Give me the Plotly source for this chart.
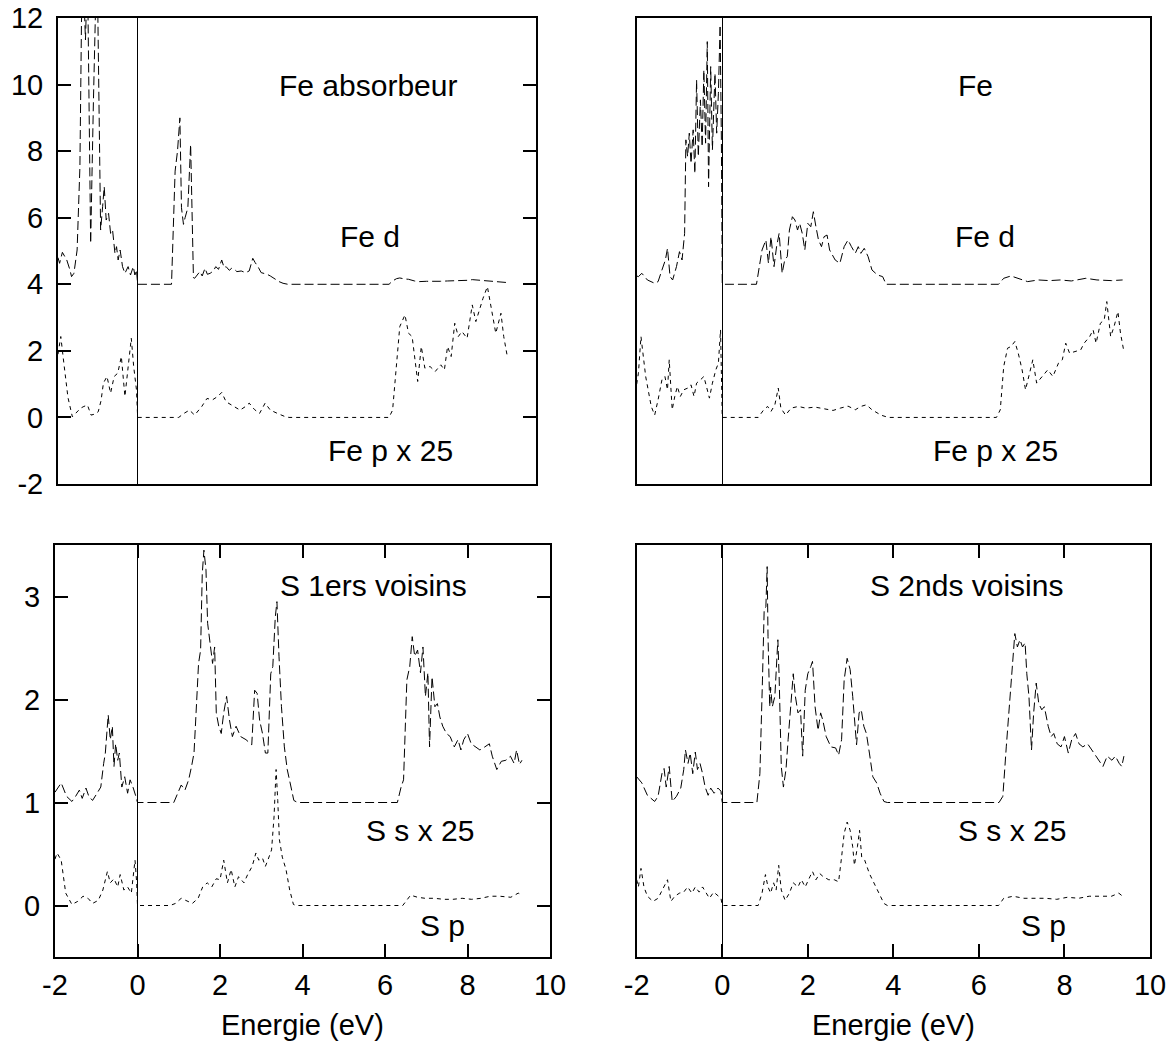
import plotly.graph_objects as go

# ---------------- Fe absorbeur (top left) ----------------
fe_abs_d_E = [-2.0, -1.96, -1.89, -1.78, -1.70, -1.66, -1.60, -1.52, -1.45, -1.41, -1.36, -1.31, -1.26,
              -1.21, -1.18, -1.11, -1.04, -1.00, -0.96, -0.93, -0.88, -0.84, -0.79, -0.73, -0.68, -0.63,
              -0.57, -0.53, -0.49, -0.44, -0.38, -0.32, -0.24, -0.18, -0.11, -0.07, -0.03, 0.0,
              0.0, 0.85, 0.94, 1.00, 1.06, 1.10, 1.15, 1.19, 1.26, 1.33, 1.40, 1.43, 1.50, 1.56, 1.62,
              1.69, 1.75, 1.82, 1.90, 1.96, 2.03, 2.11, 2.17, 2.22, 2.30, 2.36, 2.43, 2.49, 2.60, 2.71,
              2.80, 2.89, 2.95, 3.02, 3.10, 3.16, 3.25, 3.33, 3.45, 3.55, 3.65, 3.77, 6.31, 6.40, 6.50,
              6.58, 6.70, 6.80, 6.95, 7.07, 7.25, 7.42, 7.60, 7.78, 7.95, 8.14, 8.30, 8.40, 8.58, 8.76,
              8.90, 9.03, 9.15, 9.30]
fe_abs_d = [4.8, 4.63, 4.96, 4.73, 4.43, 4.23, 4.33, 5.03, 7.53, 11.94, 13.0, 11.34, 13.5,
            7.53, 5.23, 9.54, 13.2, 12.14, 8.54, 5.63, 6.33, 6.93, 5.93, 6.13, 5.53, 5.63,
            4.93, 5.13, 4.73, 5.03, 4.53, 4.33, 4.53, 4.28, 4.53, 4.28, 4.43, 4.0,
            4.0, 4.0, 7.4, 8.0, 9.0, 6.3, 5.8, 6.0, 6.3, 8.2, 4.2, 4.18, 4.3, 4.38, 4.25,
            4.48, 4.3, 4.33, 4.4, 4.53, 4.45, 4.73, 4.5, 4.53, 4.42, 4.48, 4.45, 4.38, 4.4, 4.35,
            4.4, 4.78, 4.65, 4.53, 4.35, 4.33, 4.3, 4.25, 4.15, 4.08, 4.03, 4.0, 4.0, 4.1, 4.17,
            4.19, 4.16, 4.15, 4.1, 4.08, 4.09, 4.08, 4.09, 4.1, 4.1, 4.11, 4.12, 4.14, 4.12, 4.11,
            4.09, 4.07, 4.06, 4.05]

fe_abs_p_E = [-2.0, -1.93, -1.85, -1.75, -1.64, -1.52, -1.43, -1.35, -1.26, -1.17, -1.08, -0.99, -0.92,
              -0.86, -0.77, -0.68, -0.59, -0.50, -0.41, -0.32, -0.23, -0.16, -0.10, -0.03, 0.0,
              0.0, 1.03, 1.16, 1.30, 1.43, 1.61, 1.74, 1.88, 2.01, 2.11, 2.22, 2.40, 2.57, 2.71, 2.80,
              2.93, 3.06, 3.20, 3.33, 3.51, 3.69, 3.80, 6.31, 6.40, 6.49, 6.58, 6.71, 6.80, 6.89, 6.98,
              7.03, 7.12, 7.21, 7.34, 7.47, 7.61, 7.70, 7.78, 7.87, 7.96, 8.05, 8.14, 8.27, 8.40, 8.49,
              8.58, 8.67, 8.78, 8.87, 8.99, 9.12, 9.19, 9.28]
fe_abs_p = [1.9, 2.43, 1.6, 0.6, 0.02, 0.17, 0.28, 0.33, 0.37, 0.07, 0.1, 0.17, 0.5,
            1.03, 1.23, 0.73, 1.23, 1.33, 1.83, 0.63, 1.73, 2.38, 1.53, 0.83, 0.0,
            0.0, 0.0, 0.12, 0.22, 0.07, 0.33, 0.57, 0.53, 0.63, 0.75, 0.47, 0.33, 0.22, 0.33, 0.43,
            0.24, 0.12, 0.43, 0.22, 0.12, 0.03, 0.0, 0.0, 0.22, 1.53, 2.73, 3.08, 2.53, 2.43, 1.63,
            1.08, 2.13, 1.48, 1.53, 1.38, 1.58, 1.43, 2.13, 1.83, 2.83, 2.43, 2.58, 2.38, 3.38, 2.88,
            3.23, 3.58, 3.93, 3.28, 2.53, 3.13, 2.43, 1.83]

# ---------------- Fe (top right) ----------------
fe_d_E = [-2.0, -1.96, -1.88, -1.75, -1.58, -1.50, -1.41, -1.33, -1.28, -1.22, -1.16, -1.07, -1.00,
          -0.94, -0.88, -0.85, -0.81, -0.77, -0.73, -0.68, -0.64, -0.60, -0.56, -0.51, -0.47, -0.43,
          -0.39, -0.35, -0.32, -0.27, -0.23, -0.17, -0.13, -0.09, -0.05, -0.02, 0.0,
          0.0, 0.80, 0.93, 1.02, 1.08, 1.14, 1.21, 1.27, 1.33, 1.40, 1.46, 1.52, 1.57, 1.64, 1.70,
          1.76, 1.81, 1.87, 1.93, 2.00, 2.07, 2.13, 2.19, 2.25, 2.32, 2.38, 2.45, 2.51, 2.64, 2.75,
          2.85, 2.94, 3.02, 3.11, 3.18, 3.24, 3.32, 3.41, 3.50, 3.63, 3.75, 3.83, 6.46, 6.58, 6.75,
          6.96, 7.14, 7.39, 7.65, 7.90, 8.16, 8.50, 8.76, 9.10, 9.36]
fe_d = [4.25, 4.23, 4.33, 4.13, 4.03, 4.08, 4.43, 4.73, 5.08, 4.23, 4.13, 4.53, 4.98,
        4.73, 5.53, 8.34, 7.84, 8.54, 7.63, 8.64, 7.33, 10.14, 7.84, 9.54, 8.13, 10.44,
        8.24, 11.29, 6.93, 10.54, 8.04, 10.34, 8.54, 9.74, 11.79, 8.34, 4.0,
        4.0, 4.0, 5.03, 5.33, 4.63, 5.43, 4.53, 5.13, 5.53, 4.33, 4.73, 4.83, 5.63, 6.03, 5.93,
        5.63, 5.83, 5.53, 5.03, 5.83, 5.73, 6.18, 5.73, 5.33, 5.13, 5.43, 5.48, 5.03, 4.73, 4.63,
        5.13, 5.33, 5.13, 4.93, 5.13, 4.93, 5.08, 4.83, 4.43, 4.28, 4.23, 4.0, 4.0, 4.18, 4.25,
        4.15, 4.08, 4.13, 4.11, 4.13, 4.1, 4.18, 4.13, 4.11, 4.13]

fe_p_E = [-2.0, -1.96, -1.90, -1.79, -1.66, -1.58, -1.50, -1.41, -1.34, -1.28, -1.24, -1.17, -1.11,
          -1.05, -0.98, -0.90, -0.81, -0.73, -0.66, -0.60, -0.51, -0.43, -0.37, -0.30, -0.23, -0.15,
          -0.09, -0.04, 0.0,
          0.0, 0.84, 0.97, 1.06, 1.14, 1.23, 1.31, 1.37, 1.48, 1.61, 1.78, 1.95, 2.17, 2.38, 2.59,
          2.76, 2.94, 3.11, 3.24, 3.37, 3.50, 3.71, 3.88, 6.41, 6.50, 6.58, 6.67, 6.75, 6.84, 6.92,
          7.01, 7.09, 7.18, 7.26, 7.35, 7.48, 7.61, 7.73, 7.86, 7.95, 8.03, 8.12, 8.25, 8.38, 8.46,
          8.59, 8.67, 8.74, 8.84, 8.93, 8.99, 9.08, 9.16, 9.25, 9.31, 9.39]
fe_p = [1.0, 1.33, 2.43, 1.23, 0.33, 0.07, 0.53, 1.13, 1.23, 0.83, 1.73, 0.23, 0.63,
        0.93, 0.63, 0.83, 0.88, 0.98, 0.63, 1.03, 1.13, 1.23, 0.93, 0.58, 1.03, 1.43,
        1.63, 2.63, 0.0,
        0.0, 0.0, 0.23, 0.33, 0.18, 0.38, 0.88, 0.28, 0.07, 0.28, 0.33, 0.28, 0.31, 0.25, 0.21,
        0.28, 0.34, 0.23, 0.33, 0.38, 0.23, 0.07, 0.0, 0.0, 0.23, 1.53, 2.08, 2.13, 2.28, 1.93,
        1.43, 0.83, 1.33, 1.73, 1.03, 1.23, 1.43, 1.23, 1.63, 1.73, 2.23, 1.93, 1.98, 2.03, 2.23,
        2.43, 2.63, 2.23, 2.83, 2.93, 3.48, 2.43, 2.73, 3.18, 2.53, 1.98]

# ---------------- S 1ers voisins (bottom left) ----------------
s1_s_E = [-2.0, -1.97, -1.85, -1.72, -1.59, -1.50, -1.41, -1.34, -1.25, -1.18, -1.09, -0.98, -0.89,
          -0.82, -0.78, -0.71, -0.66, -0.61, -0.57, -0.53, -0.48, -0.44, -0.38, -0.31, -0.24, -0.18,
          -0.11, -0.04, 0.0,
          0.0, 0.88, 0.97, 1.06, 1.15, 1.24, 1.31, 1.37, 1.42, 1.48, 1.53, 1.57, 1.61, 1.66, 1.70,
          1.76, 1.82, 1.87, 1.91, 1.97, 2.03, 2.09, 2.16, 2.23, 2.30, 2.39, 2.50, 2.63, 2.77, 2.84,
          2.90, 2.96, 3.03, 3.10, 3.16, 3.23, 3.28, 3.34, 3.38, 3.43, 3.49, 3.56, 3.63, 3.70, 3.79,
          3.88, 6.30, 6.39, 6.45, 6.53, 6.60, 6.66, 6.72, 6.79, 6.86, 6.92, 6.98, 7.04, 7.08, 7.14,
          7.21, 7.27, 7.33, 7.40, 7.49, 7.58, 7.68, 7.77, 7.84, 7.91, 8.00, 8.09, 8.20, 8.30, 8.42,
          8.53, 8.60, 8.71, 8.82, 8.93, 9.04, 9.13, 9.19, 9.26, 9.32]
s1_s = [1.1, 1.12, 1.19, 1.06, 1.01, 1.06, 1.12, 1.04, 1.14, 1.06, 1.02, 1.09, 1.15,
        1.38, 1.48, 1.85, 1.61, 1.74, 1.35, 1.57, 1.41, 1.48, 1.15, 1.25, 1.09, 1.22,
        1.15, 1.06, 1.0,
        1.0, 1.0, 1.09, 1.17, 1.12, 1.22, 1.35, 1.48, 1.87, 2.35, 2.48, 3.22, 3.45, 3.26, 2.74,
        2.51, 2.35, 2.51, 1.87, 1.74, 1.67, 1.87, 2.03, 1.8, 1.64, 1.74, 1.64, 1.61, 1.56, 2.09,
        2.06, 1.8, 1.67, 1.48, 1.48, 2.25, 2.32, 2.8, 2.95, 2.42, 1.93, 1.54, 1.32, 1.19, 1.02,
        1.0, 1.0, 1.15, 1.22, 2.19, 2.32, 2.61, 2.42, 2.48, 2.26, 2.51, 2.03, 2.26, 1.54, 2.22,
        1.93, 1.96, 1.83, 1.74, 1.67, 1.64, 1.54, 1.61, 1.51, 1.61, 1.67, 1.57, 1.54, 1.51, 1.54,
        1.57, 1.45, 1.32, 1.4, 1.41, 1.45, 1.38, 1.51, 1.37, 1.41]

s1_p_E = [-2.0, -1.95, -1.85, -1.74, -1.59, -1.45, -1.32, -1.20, -1.09, -0.95, -0.84, -0.73, -0.66,
          -0.57, -0.48, -0.42, -0.33, -0.24, -0.15, -0.06, -0.02, 0.0,
          0.0, 0.79, 0.92, 1.06, 1.20, 1.33, 1.47, 1.58, 1.69, 1.80, 1.91, 2.00, 2.09, 2.18, 2.27,
          2.36, 2.45, 2.58, 2.67, 2.78, 2.87, 2.94, 3.03, 3.10, 3.16, 3.25, 3.31, 3.36, 3.40, 3.44,
          3.51, 3.60, 3.69, 3.78, 3.85, 6.43, 6.62, 6.79, 6.97, 7.20, 7.42, 7.65, 7.87, 8.10, 8.33,
          8.55, 8.78, 9.05, 9.23, 9.33]
s1_p = [0.45, 0.51, 0.44, 0.12, 0.01, 0.04, 0.09, 0.07, 0.02, 0.05, 0.15, 0.33, 0.22,
        0.26, 0.18, 0.3, 0.15, 0.18, 0.12, 0.44, 0.22, 0.0,
        0.0, 0.0, 0.02, 0.07, 0.04, 0.02, 0.07, 0.18, 0.22, 0.18, 0.26, 0.25, 0.44, 0.22, 0.35,
        0.18, 0.28, 0.22, 0.3, 0.38, 0.51, 0.44, 0.46, 0.38, 0.44, 0.54, 0.86, 1.32, 1.02, 0.64,
        0.47, 0.35, 0.15, 0.01, 0.0, 0.0, 0.1, 0.08, 0.07, 0.07, 0.06, 0.06, 0.07, 0.06, 0.07,
        0.09, 0.09, 0.08, 0.12, 0.1]

# ---------------- S 2nds voisins (bottom right) ----------------
s2_s_E = [-2.0, -1.96, -1.88, -1.75, -1.58, -1.50, -1.41, -1.36, -1.31, -1.24, -1.17, -1.07, -0.97,
          -0.90, -0.86, -0.80, -0.75, -0.69, -0.63, -0.58, -0.52, -0.46, -0.40, -0.33, -0.27, -0.19,
          -0.10, -0.03, 0.0,
          0.0, 0.81, 0.88, 0.94, 0.98, 1.02, 1.05, 1.07, 1.11, 1.13, 1.17, 1.23, 1.30, 1.33, 1.38,
          1.43, 1.49, 1.54, 1.60, 1.66, 1.71, 1.77, 1.83, 1.88, 1.94, 2.00, 2.07, 2.11, 2.17, 2.24,
          2.30, 2.35, 2.43, 2.54, 2.65, 2.72, 2.79, 2.85, 2.92, 2.99, 3.05, 3.09, 3.14, 3.20, 3.25,
          3.31, 3.37, 3.44, 3.52, 3.61, 3.69, 3.78, 3.86, 6.47, 6.56, 6.64, 6.73, 6.79, 6.84, 6.90,
          6.96, 7.02, 7.08, 7.12, 7.17, 7.23, 7.28, 7.34, 7.40, 7.47, 7.53, 7.62, 7.69, 7.75, 7.83,
          7.92, 8.00, 8.09, 8.17, 8.26, 8.34, 8.43, 8.54, 8.64, 8.73, 8.81, 8.90, 9.00, 9.11, 9.19,
          9.28, 9.34, 9.39]
s2_s = [1.25, 1.23, 1.19, 1.07, 1.01, 1.06, 1.28, 1.33, 1.15, 1.35, 1.01, 1.06, 1.14,
        1.32, 1.51, 1.38, 1.48, 1.28, 1.49, 1.32, 1.38, 1.28, 1.15, 1.07, 1.14, 1.09,
        1.14, 1.11, 1.0,
        1.0, 1.0, 1.28, 2.19, 2.87, 2.9, 3.29, 2.61, 1.93, 2.12, 1.93, 2.03, 2.58, 2.22, 1.35,
        1.15, 1.32, 1.61, 1.93, 2.25, 2.03, 1.87, 1.9, 1.45, 2.09, 2.25, 2.32, 2.37, 1.93, 1.7,
        1.87, 1.8, 1.64, 1.54, 1.53, 1.46, 1.61, 2.19, 2.4, 2.29, 2.03, 1.8, 1.56, 1.87, 1.9,
        1.74, 1.67, 1.48, 1.25, 1.19, 1.09, 1.01, 1.0, 1.0, 1.06, 1.54, 2.06, 2.42, 2.64, 2.51,
        2.58, 2.51, 2.55, 2.25, 2.03, 1.51, 1.87, 2.16, 1.96, 1.9, 1.93, 1.74, 1.64, 1.67, 1.57,
        1.54, 1.64, 1.48, 1.61, 1.67, 1.57, 1.54, 1.57, 1.51, 1.45, 1.41, 1.35, 1.45, 1.41, 1.45,
        1.38, 1.35, 1.45]

s2_p_E = [-2.0, -1.96, -1.90, -1.83, -1.75, -1.62, -1.50, -1.37, -1.28, -1.20, -1.11, -1.00, -0.90,
          -0.81, -0.71, -0.63, -0.54, -0.46, -0.37, -0.30, -0.20, -0.10, -0.03, 0.0,
          0.0, 0.84, 0.93, 1.01, 1.07, 1.13, 1.20, 1.26, 1.32, 1.38, 1.47, 1.57, 1.66, 1.77, 1.85,
          1.94, 2.05, 2.11, 2.19, 2.28, 2.36, 2.49, 2.62, 2.72, 2.79, 2.85, 2.92, 2.99, 3.05, 3.09,
          3.16, 3.21, 3.26, 3.33, 3.44, 3.54, 3.65, 3.78, 3.86, 6.46, 6.58, 6.80, 7.05, 7.31, 7.56,
          7.82, 8.07, 8.33, 8.58, 8.84, 9.10, 9.27, 9.36]
s2_p = [0.25, 0.18, 0.36, 0.18, 0.09, 0.04, 0.07, 0.18, 0.25, 0.04, 0.09, 0.12, 0.13,
        0.18, 0.12, 0.18, 0.13, 0.18, 0.12, 0.07, 0.13, 0.09, 0.07, 0.0,
        0.0, 0.0, 0.12, 0.3, 0.18, 0.12, 0.22, 0.15, 0.39, 0.15, 0.05, 0.12, 0.22, 0.18, 0.25,
        0.18, 0.28, 0.33, 0.25, 0.31, 0.28, 0.25, 0.25, 0.23, 0.47, 0.7, 0.81, 0.73, 0.57, 0.39,
        0.57, 0.73, 0.47, 0.44, 0.31, 0.22, 0.12, 0.02, 0.0, 0.0, 0.07, 0.09, 0.07, 0.07, 0.07,
        0.06, 0.08, 0.07, 0.09, 0.09, 0.09, 0.12, 0.09]

# tick values and their printed labels (plain hyphen for negatives)
energy_ticks = [-2, 0, 2, 4, 6, 8, 10]
energy_labels = ["-2", "0", "2", "4", "6", "8", "10"]
fe_ticks = [-2, 0, 2, 4, 6, 8, 10, 12]
fe_labels = ["-2", "0", "2", "4", "6", "8", "10", "12"]
s_ticks = [0, 1, 2, 3]
s_labels = ["0", "1", "2", "3"]

FONT = "Liberation Sans, Arial, Helvetica, sans-serif"
LONG_DASH = "9px,4px"
SHORT_DASH = "4px,4px"

fig = go.Figure()

panels = [
    ("x", "y", fe_abs_d_E, fe_abs_d, fe_abs_p_E, fe_abs_p),
    ("x2", "y2", fe_d_E, fe_d, fe_p_E, fe_p),
    ("x3", "y3", s1_s_E, s1_s, s1_p_E, s1_p),
    ("x4", "y4", s2_s_E, s2_s, s2_p_E, s2_p),
]
for xa, ya, e1, v1, e2, v2 in panels:
    fig.add_trace(go.Scatter(x=e1, y=v1, xaxis=xa, yaxis=ya, mode="lines",
                             line=dict(color="black", width=1, dash=LONG_DASH),
                             showlegend=False, hoverinfo="skip"))
    fig.add_trace(go.Scatter(x=e2, y=v2, xaxis=xa, yaxis=ya, mode="lines",
                             line=dict(color="black", width=1, dash=SHORT_DASH),
                             showlegend=False, hoverinfo="skip"))

W, H = 1171, 1050
left_top = [58 / W, 536 / W]
left_bot = [55 / W, 550 / W]
right_col = [636.7 / W, 1150 / W]
top_row = [1 - 484 / H, 1 - 18 / H]
bot_row = [1 - 957 / H, 1 - 545 / H]

tick_font = dict(family=FONT, size=29, color="black")


def xaxis(domain, anchor, labels):
    d = dict(domain=domain, anchor=anchor, range=[-2, 10], showline=True, linecolor="black",
             linewidth=2, mirror=True, showgrid=False, zeroline=True, zerolinecolor="black",
             zerolinewidth=1, tickfont=tick_font, fixedrange=True, automargin=False)
    if labels:
        d.update(tickmode="array", tickvals=energy_ticks, ticktext=energy_labels,
                 ticks="inside", ticklen=13, tickwidth=1.5, tickcolor="black", mirror="ticks",
                 showticklabels=True, ticklabelstandoff=1)
    else:
        d.update(ticks="", showticklabels=False)
    return d


def yaxis(domain, anchor, rng, vals, text, labels):
    d = dict(domain=domain, anchor=anchor, range=rng, showline=True, linecolor="black",
             linewidth=2, mirror=True, showgrid=False, zeroline=False, tickfont=tick_font,
             fixedrange=True, automargin=False)
    if labels:
        d.update(tickmode="array", tickvals=vals, ticktext=text, ticks="inside", ticklen=13,
                 tickwidth=1.5, tickcolor="black", mirror="ticks", showticklabels=True,
                 ticklabelstandoff=7)
    else:
        d.update(ticks="", showticklabels=False)
    return d


fig.update_layout(
    template="none",
    width=W, height=H,
    margin=dict(l=0, r=0, t=0, b=0, pad=0),
    paper_bgcolor="white", plot_bgcolor="white",
    font=dict(family=FONT, size=29, color="black"),
    xaxis=xaxis(left_top, "y", False),
    yaxis=yaxis(top_row, "x", [-2, 12], fe_ticks, fe_labels, True),
    xaxis2=xaxis(right_col, "y2", False),
    yaxis2=yaxis(top_row, "x2", [-2, 12], [], [], False),
    xaxis3=xaxis(left_bot, "y3", True),
    yaxis3=yaxis(bot_row, "x3", [-0.5, 3.5], s_ticks, s_labels, True),
    xaxis4=xaxis(right_col, "y4", True),
    yaxis4=yaxis(bot_row, "x4", [-0.5, 3.5], [], [], False),
)

# panel labels
labels = [
    ("x", "y", 5.78, 9.96, "Fe absorbeur"),
    ("x", "y", 5.83, 5.45, "Fe d"),
    ("x", "y", 6.34, -0.98, "Fe p x 25"),
    ("x2", "y2", 5.91, 9.96, "Fe"),
    ("x2", "y2", 6.14, 5.45, "Fe d"),
    ("x2", "y2", 6.38, -0.98, "Fe p x 25"),
    ("x3", "y3", 5.71, 3.11, "S 1ers voisins"),
    ("x3", "y3", 6.85, 0.73, "S s x 25"),
    ("x3", "y3", 7.40, -0.19, "S p"),
    ("x4", "y4", 5.70, 3.11, "S 2nds voisins"),
    ("x4", "y4", 6.77, 0.73, "S s x 25"),
    ("x4", "y4", 7.52, -0.19, "S p"),
]
for xr, yr, xv, yv, txt in labels:
    fig.add_annotation(x=xv, y=yv, xref=xr, yref=yr, text=txt, showarrow=False,
                       xanchor="center", yanchor="middle",
                       font=dict(family=FONT, size=30, color="black"))

# x-axis titles under the bottom panels
for dom in (left_bot, right_col):
    fig.add_annotation(x=(dom[0] + dom[1]) / 2, y=1 - 1025 / H, xref="paper", yref="paper",
                       text="Energie (eV)", showarrow=False, xanchor="center", yanchor="middle",
                       font=dict(family=FONT, size=29, color="black"))

fig.write_html("out.html")
